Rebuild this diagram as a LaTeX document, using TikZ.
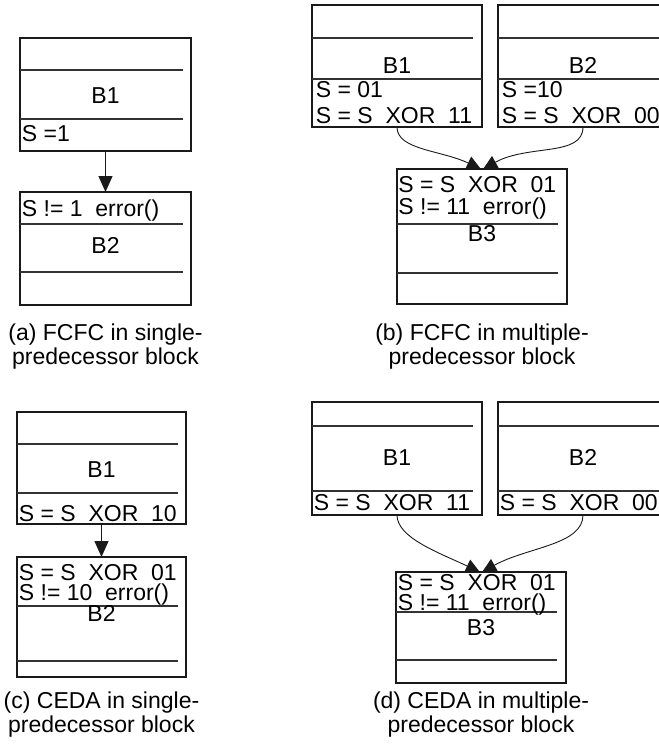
\documentclass[tikz,border=0pt]{standalone}
\usepackage{fontspec}
\setmainfont{Liberation Sans}
\usepackage{tikz}
\usetikzlibrary{arrows.meta,positioning,calc}
\definecolor{cInk}{HTML}{1A1A1A}
\definecolor{cRule}{HTML}{333333}
\tikzset{
  blk/.style={draw=cInk,line width=0.55pt,anchor=north west,inner sep=0pt,outer sep=0pt,minimum width=#1},
  blk/.default=85pt,
  dv/.style={draw=cRule,line width=0.55pt},
  stmt/.style={anchor=base west,inner sep=0pt,font=\fontsize{11.5}{12}\selectfont},
  bname/.style={anchor=base,inner sep=0pt,font=\fontsize{11.5}{12}\selectfont},
  captxt/.style={anchor=north,align=center,inner sep=0pt,font=\fontsize{11.5}{12}\selectfont},
  arr/.style={-{Triangle[length=8pt,width=7pt]},line width=0.55pt,color=cInk},
  carr/.style={-{Triangle[length=7pt,width=7pt]},line width=0.45pt,color=cInk},
}

\begin{document}
\begin{tikzpicture}[x=0.5pt,y=0.5pt]
  \useasboundingbox (0,0) rectangle (659,-751);
  \clip (0,0) rectangle (659,-751);
  % (a) single predecessor, FCFC
  \node[blk=85.5pt,minimum height=56.5pt] (a1) at (20,-38) {};
  \node[blk=85.5pt,minimum height=56.5pt] (a2) at (20,-192) {};
  \draw[dv] (20,-70) -- (183,-70) (20,-119) -- (183,-119);
  \draw[dv] (20,-224) -- (183,-224) (20,-272) -- (183,-272);
  \node[bname] (a1n) at (105.5,-103) {B1};
  \node[stmt]  (a1s) at (21.5,-141.5) {S =1};
  \node[stmt]  (a2c) at (21.5,-216) {S != 1~~error()};
  \node[bname] (a2n) at (105.5,-253) {B2};
  \draw[arr] (a1) -- (a2);
  \node[captxt] (capa) at (105.5,-323) {(a) FCFC in single-\\predecessor block};
  % (b) multiple predecessors, FCFC
  \node[blk,minimum height=61pt] (b1) at (312,-5) {};
  \node[blk,minimum height=61pt] (b2) at (498,-5) {};
  \node[blk,minimum height=67.5pt] (b3) at (397,-169) {};
  \draw[dv] (312,-38) -- (473,-38) (312,-79) -- (482,-79);
  \draw[dv] (498,-38) -- (668,-38) (498,-79) -- (668,-79);
  \draw[dv] (397,-224) -- (558,-224) (397,-273) -- (558,-273);
  \node[bname] (b1n) at (397,-73) {B1};
  \node[stmt]  (b1s) at (315.5,-97) {S = 01};
  \node[stmt]  (b1x) at (315.5,-123) {S = S~~XOR~~11};
  \node[bname] (b2n) at (583,-73) {B2};
  \node[stmt]  (b2s) at (501.5,-97) {S =10};
  \node[stmt]  (b2x) at (501.5,-123) {S = S~~XOR~~00};
  \node[stmt]  (b3x) at (398,-192) {S = S~~XOR~~01};
  \node[stmt]  (b3c) at (398,-214) {S != 11~~error()};
  \node[bname] (b3n) at (482,-241) {B3};
  \draw[carr] (b1.south) .. controls +(0,-23) and +(-40,19) .. ([xshift=-0.6pt]b3.north);
  \draw[carr] (b2.south) .. controls +(0,-30) and +(45,25) .. ([xshift=0.6pt]b3.north);
  \node[captxt] (capb) at (482,-323) {(b) FCFC in multiple-\\predecessor block};
  % (c) single predecessor, CEDA
  \node[blk=84.5pt,minimum height=56pt] (c1) at (17,-412) {};
  \node[blk=84.5pt,minimum height=60pt] (c2) at (17,-557) {};
  \draw[dv] (17,-444) -- (178,-444) (17,-493) -- (178,-493);
  \draw[dv] (17,-606) -- (178,-606) (17,-661) -- (178,-661);
  \node[bname] (c1n) at (101.5,-477) {B1};
  \node[stmt]  (c1x) at (18.5,-521) {S = S~~XOR~~10};
  \node[stmt]  (c2x) at (18.5,-580) {S = S~~XOR~~01};
  \node[stmt]  (c2c) at (18.5,-600) {S != 10~~error()};
  \node[bname] (c2n) at (101.5,-621) {B2};
  \draw[arr] (c1) -- (c2);
  \node[captxt] (capc) at (101.5,-691) {(c) CEDA in single-\\predecessor block};
  % (d) multiple predecessors, CEDA
  \node[blk,minimum height=56.5pt] (d1) at (312,-402) {};
  \node[blk,minimum height=56.5pt] (d2) at (498,-402) {};
  \node[blk,minimum height=55.5pt] (d3) at (396,-572) {};
  \draw[dv] (312,-426) -- (473,-426) (312,-491) -- (473,-491);
  \draw[dv] (498,-426) -- (668,-426) (498,-491) -- (668,-491);
  \draw[dv] (396,-612) -- (557,-612) (396,-660) -- (557,-660);
  \node[bname] (d1n) at (397,-465) {B1};
  \node[stmt]  (d1x) at (313.5,-510) {S = S~~XOR~~11};
  \node[bname] (d2n) at (583,-465) {B2};
  \node[stmt]  (d2x) at (499.5,-510) {S = S~~XOR~~00};
  \node[stmt]  (d3x) at (397.5,-590) {S = S~~XOR~~01};
  \node[stmt]  (d3c) at (397.5,-610) {S != 11~~error()};
  \node[bname] (d3n) at (481,-635) {B3};
  \draw[carr] (d1.south) .. controls +(0,-23) and +(-40,19) .. ([xshift=-0.6pt]d3.north);
  \draw[carr] (d2.south) .. controls +(0,-30) and +(45,25) .. ([xshift=0.6pt]d3.north);
  \node[captxt] (capd) at (481,-691) {(d) CEDA in multiple-\\predecessor block};
\end{tikzpicture}
\end{document}
